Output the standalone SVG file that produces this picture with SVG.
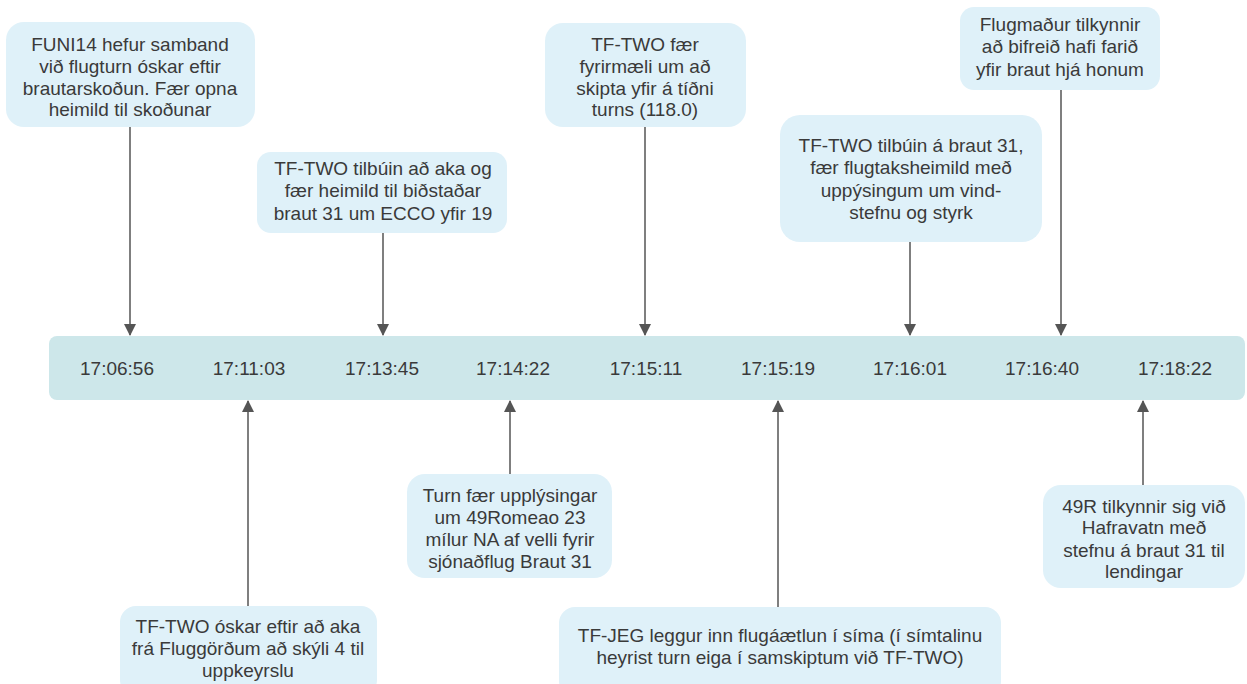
<svg xmlns="http://www.w3.org/2000/svg" width="1247" height="684" viewBox="0 0 1247 684">
<defs>
<style>
.box{fill:#dff1f9;}
.bar{fill:#cde7ea;}
text{font-family:"Liberation Sans",Arial,sans-serif;font-size:19px;fill:#3a3a3a;text-anchor:middle;}
.c{stroke:#555;stroke-width:1.5;fill:none;}
</style>
<marker id="ah" markerWidth="12" markerHeight="14" refX="11" refY="6" orient="auto" markerUnits="userSpaceOnUse" viewBox="0 0 12 12">
<path d="M0,0 L12,6 L0,12 Z" fill="#555"/>
</marker>
</defs>
<rect width="1247" height="684" fill="#fff"/>
<g id="connectors">
<line class="c" x1="130" y1="127" x2="130" y2="335" marker-end="url(#ah)"/>
<line class="c" x1="383" y1="233" x2="383" y2="335" marker-end="url(#ah)"/>
<line class="c" x1="645" y1="127" x2="645" y2="335" marker-end="url(#ah)"/>
<line class="c" x1="910" y1="242" x2="910" y2="335" marker-end="url(#ah)"/>
<line class="c" x1="1061" y1="90" x2="1061" y2="335" marker-end="url(#ah)"/>
<line class="c" x1="248" y1="606" x2="248" y2="401" marker-end="url(#ah)"/>
<line class="c" x1="510" y1="474" x2="510" y2="401" marker-end="url(#ah)"/>
<line class="c" x1="778" y1="607" x2="778" y2="401" marker-end="url(#ah)"/>
<line class="c" x1="1143" y1="485" x2="1143" y2="401" marker-end="url(#ah)"/>
</g>
<g id="timeline">
<rect class="bar" x="49" y="336" width="1196" height="64" rx="8"/>
<text x="117" y="375">17:06:56</text>
<text x="249" y="375">17:11:03</text>
<text x="382" y="375">17:13:45</text>
<text x="513" y="375">17:14:22</text>
<text x="646" y="375">17:15:11</text>
<text x="778" y="375">17:15:19</text>
<text x="910" y="375">17:16:01</text>
<text x="1042" y="375">17:16:40</text>
<text x="1175" y="375">17:18:22</text>
</g>
<g id="n1">
<rect class="box" x="6" y="22" width="249" height="105" rx="18"/>
<text x="130" y="51">FUNI14 hefur samband</text>
<text x="130" y="73">við flugturn óskar eftir</text>
<text x="130" y="95">brautarskoðun. Fær opna</text>
<text x="130" y="116">heimild til skoðunar</text>
</g>
<g id="n2">
<rect class="box" x="257" y="152" width="250" height="81" rx="14"/>
<text x="383" y="175">TF-TWO tilbúin að aka og</text>
<text x="383" y="197">fær heimild til biðstaðar</text>
<text x="383" y="220">braut 31 um ECCO yfir 19</text>
</g>
<g id="n3">
<rect class="box" x="545" y="23" width="201" height="104" rx="18"/>
<text x="645" y="51">TF-TWO fær</text>
<text x="645" y="73">fyrirmæli um að</text>
<text x="645" y="95">skipta yfir á tíðni</text>
<text x="645" y="116">turns (118.0)</text>
</g>
<g id="n4">
<rect class="box" x="780" y="115" width="262" height="127" rx="20"/>
<text x="911" y="152">TF-TWO tilbúin á braut 31,</text>
<text x="911" y="174">fær flugtaksheimild með</text>
<text x="911" y="197">uppýsingum um vind-</text>
<text x="911" y="219">stefnu og styrk</text>
</g>
<g id="n5">
<rect class="box" x="960" y="7" width="200" height="83" rx="14"/>
<text x="1060" y="31">Flugmaður tilkynnir</text>
<text x="1060" y="53">að bifreið hafi farið</text>
<text x="1060" y="76">yfir braut hjá honum</text>
</g>
<g id="n6">
<rect class="box" x="120" y="606" width="257" height="90" rx="16"/>
<text x="248" y="633">TF-TWO óskar eftir að aka</text>
<text x="248" y="655">frá Fluggörðum að skýli 4 til</text>
<text x="248" y="677">uppkeyrslu</text>
</g>
<g id="n7">
<rect class="box" x="407" y="474" width="205" height="104" rx="18"/>
<text x="510" y="502">Turn fær upplýsingar</text>
<text x="510" y="524">um 49Romeao 23</text>
<text x="510" y="546">mílur NA af velli fyrir</text>
<text x="510" y="568">sjónaðflug Braut 31</text>
</g>
<g id="n8">
<rect class="box" x="559" y="607" width="442" height="90" rx="16"/>
<text x="780" y="642">TF-JEG leggur inn flugáætlun í síma (í símtalinu</text>
<text x="780" y="664">heyrist turn eiga í samskiptum við TF-TWO)</text>
</g>
<g id="n9">
<rect class="box" x="1043" y="485" width="202" height="103" rx="18"/>
<text x="1144" y="513">49R tilkynnir sig við</text>
<text x="1144" y="534">Hafravatn með</text>
<text x="1144" y="557">stefnu á braut 31 til</text>
<text x="1144" y="578">lendingar</text>
</g>
</svg>
